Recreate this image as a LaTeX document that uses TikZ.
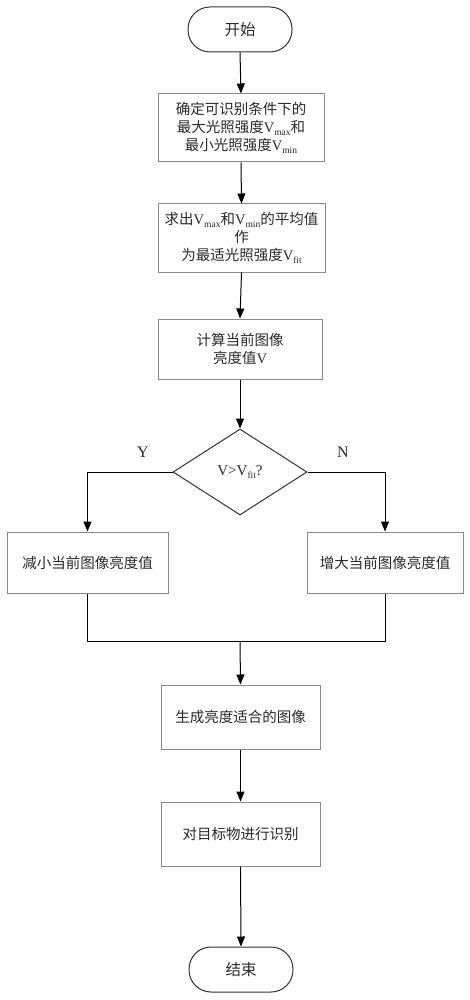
\documentclass[tikz,border=0pt]{standalone}
\usepackage{fontspec}
\setmainfont{Liberation Serif}
\newfontfamily\cjk{Noto Sans CJK SC}
\usetikzlibrary{shapes.geometric,arrows.meta}
\newcommand\lowsub[1]{\raisebox{-0.35ex}{\fontsize{9.5}{9.5}\selectfont #1}}
\definecolor{boxgray}{HTML}{8A8A8A}
\definecolor{termgray}{HTML}{333333}
\definecolor{textgray}{HTML}{2A2A2A}
\tikzset{
  procbox/.style={draw=boxgray,line width=1pt,rectangle,inner sep=0pt,align=center,
     font=\cjk\fontsize{14.5}{18}\selectfont,text=textgray},
  termbox/.style={draw=termgray,line width=1pt,rectangle,rounded corners=22pt,inner sep=0pt,
     minimum width=104pt,minimum height=45pt,font=\cjk\fontsize{15.5}{18}\selectfont,text=textgray},
  decbox/.style={draw=termgray,line width=1pt,diamond,aspect=1.56,inner sep=0pt,
     minimum width=134pt,minimum height=86pt,font=\fontsize{15}{18}\selectfont,text=textgray},
  arr/.style={draw=black,line width=1pt,-{Triangle[length=10pt,width=8pt]}},
  ln/.style={draw=black,line width=1pt},
  lbl/.style={font=\fontsize{16}{18}\selectfont,text=textgray}
}
\begin{document}
\begin{tikzpicture}[x=1pt,y=-1pt]
\useasboundingbox[fill=white] (0,0) rectangle (470,1000);
\node[termbox] (start) at (240,29.5) {开始};
\node[procbox,minimum width=166pt,minimum height=68pt] (b1) at (241,128)
  {确定可识别条件下的\\最大光照强度{\rmfamily V\lowsub{max}}和\\最小光照强度{\rmfamily V\lowsub{min}}};
\node[procbox,minimum width=167pt,minimum height=68pt] (b2) at (241.5,238)
  {求出{\rmfamily V\lowsub{max}}和{\rmfamily V\lowsub{min}}的平均值\\作\\为最适光照强度{\rmfamily V\lowsub{fit}}};
\node[procbox,minimum width=164pt,minimum height=60pt] (b3) at (240,349)
  {计算当前图像\\亮度值{\rmfamily V}};
\node[decbox] (d) at (240,472) {V>V\lowsub{fit}?};
\node[procbox,minimum width=161pt,minimum height=61pt] (l) at (87.5,562.5) {减小当前图像亮度值};
\node[procbox,minimum width=156pt,minimum height=61pt] (r) at (385,562.5) {增大当前图像亮度值};
\node[procbox,minimum width=159pt,minimum height=64pt] (g) at (240.5,717) {生成亮度适合的图像};
\node[procbox,minimum width=159pt,minimum height=64pt] (t) at (240.5,834) {对目标物进行识别};
\node[termbox] (end) at (241,969.5) {结束};
\node[lbl] (ylab) at (143,452) {Y};
\node[lbl] (nlab) at (343,452) {N};
\coordinate (m) at (240,641);
\draw[arr] (start.south) -- (b1.north);
\draw[arr] (b1.south) -- (b2.north);
\draw[arr] (b2.south) -- (b3.north);
\draw[arr] (b3.south) -- (d.north);
\draw[arr] (d.west) -| (l.north);
\draw[arr] (d.east) -| (r.north);
\draw[ln] (l.south) |- (m);
\draw[ln] (r.south) |- (m);
\draw[arr] (m) -- (g.north);
\draw[arr] (g.south) -- (t.north);
\draw[arr] (t.south) -- (end.north);
\end{tikzpicture}
\end{document}
